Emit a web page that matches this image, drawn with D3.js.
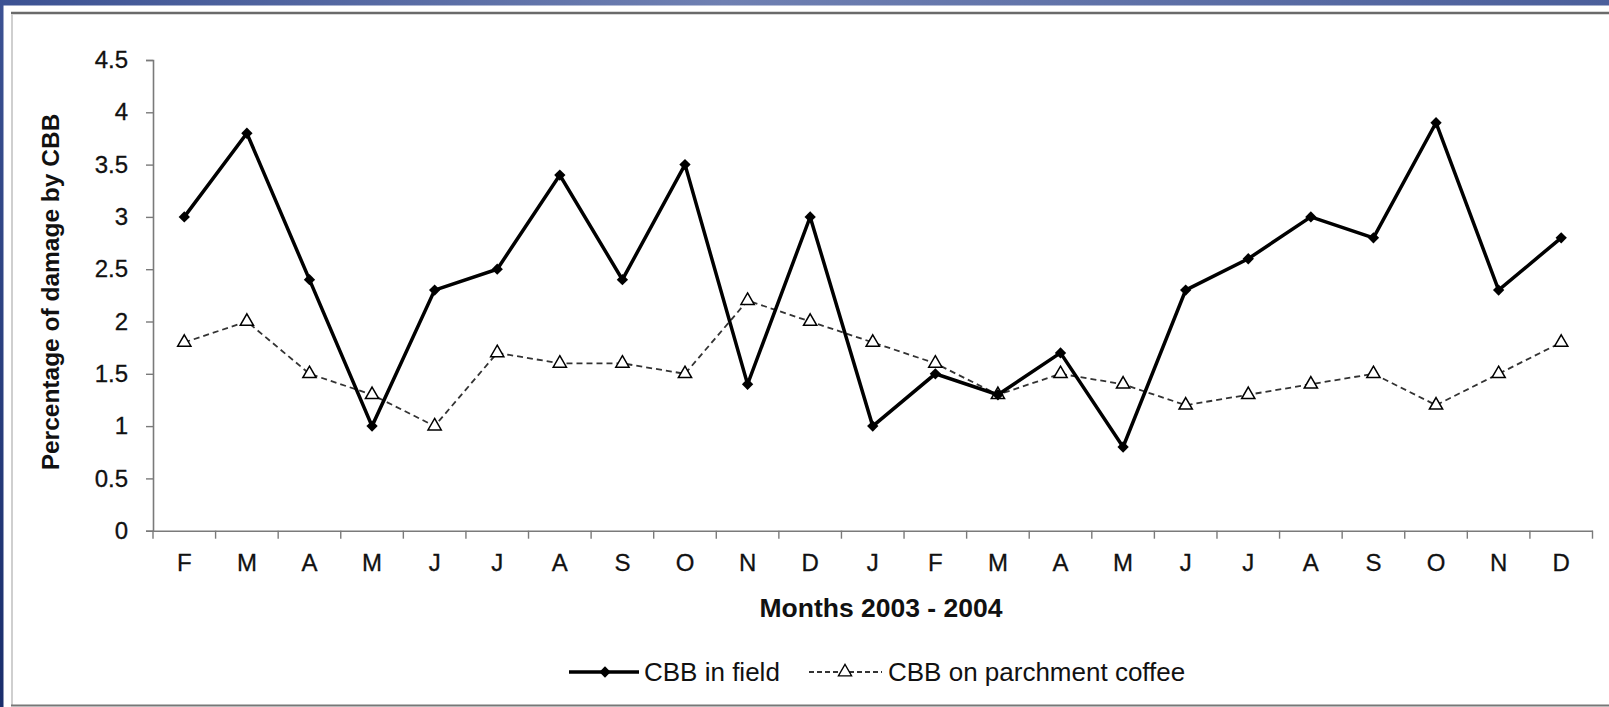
<html lang="en">
<head>
    <meta charset="UTF-8">
    <title>CBB damage</title>
    <script src="https://cdn.jsdelivr.net/npm/d3@7" type="text/javascript"></script>
    <style>
        body { margin: 0; background: #fff; }
        text { font-family: "Liberation Sans", Arial, sans-serif; fill: #111; }
    </style>
</head>
<body>
    <svg id="svg"></svg>

    <script>
        var WIDTH = 1609;
        var HEIGHT = 707;

        // months Feb 2003 - Dec 2004
        var months = ["F","M","A","M","J","J","A","S","O","N","D","J","F","M","A","M","J","J","A","S","O","N","D"];
        var cbbField = [3.0, 3.8, 2.4, 1.0, 2.3, 2.5, 3.4, 2.4, 3.5, 1.4, 3.0, 1.0, 1.5, 1.3, 1.7, 0.8, 2.3, 2.6, 3.0, 2.8, 3.9, 2.3, 2.8];
        var cbbParchment = [1.8, 2.0, 1.5, 1.3, 1.0, 1.7, 1.6, 1.6, 1.5, 2.2, 2.0, 1.8, 1.6, 1.3, 1.5, 1.4, 1.2, 1.3, 1.4, 1.5, 1.2, 1.5, 1.8];
        var yTicks = [0, 0.5, 1, 1.5, 2, 2.5, 3, 3.5, 4, 4.5];
        var seriesNames = ["CBB in field", "CBB on parchment coffee"];

        var buildChart = function(){

            var svg = d3.select("#svg")
                        .attr("width", WIDTH)
                        .attr("height", HEIGHT);

            // slide frame
            var defs = svg.append("defs");
            var gTop = defs.append("linearGradient").attr("id","topbar");
            gTop.append("stop").attr("offset","0%").attr("stop-color","#3c5293");
            gTop.append("stop").attr("offset","45%").attr("stop-color","#6f80b2");
            gTop.append("stop").attr("offset","100%").attr("stop-color","#4b5f9b");
            var gLeft = defs.append("linearGradient").attr("id","leftbar")
                            .attr("x1","0").attr("y1","0").attr("x2","0").attr("y2","1");
            gLeft.append("stop").attr("offset","0%").attr("stop-color","#3c5293");
            gLeft.append("stop").attr("offset","100%").attr("stop-color","#1a2e6c");

            svg.append("rect").attr("x",0).attr("y",0).attr("width",WIDTH).attr("height",HEIGHT).attr("fill","#fff");
            svg.append("rect").attr("x",0).attr("y",0).attr("width",WIDTH).attr("height",5.5).attr("fill","url(#topbar)");
            svg.append("rect").attr("x",0).attr("y",0).attr("width",3.5).attr("height",HEIGHT).attr("fill","url(#leftbar)");
            svg.append("line").attr("x1",11).attr("x2",WIDTH).attr("y1",13).attr("y2",13)
               .attr("stroke","#6a6a6a").attr("stroke-width",2.5);
            svg.append("line").attr("x1",12).attr("x2",12).attr("y1",14).attr("y2",706)
               .attr("stroke","#cfcfcf").attr("stroke-width",2);
            svg.append("line").attr("x1",11).attr("x2",WIDTH).attr("y1",705.5).attr("y2",705.5)
               .attr("stroke","#777").attr("stroke-width",2);

            var xScale = d3.scaleBand()
                           .domain(d3.range(months.length))
                           .range([153, 1592.5]);

            var yScale = d3.scaleLinear()
                           .domain([0, 4.5])
                           .range([530.7, 60]);

            var yAxis = d3.axisLeft(yScale)
                          .tickValues(yTicks)
                          .tickSize(7)
                          .tickPadding(18)
                          .tickFormat(function(d){ return String(d); });

            var xAxis = d3.axisBottom(xScale)
                          .tickSize(0)
                          .tickPadding(23)
                          .tickFormat(function(i){ return months[i]; });

            var gy = svg.append("g")
               .attr("transform","translate(153,0)")
               .call(yAxis);

            var gx = svg.append("g")
               .attr("transform","translate(0,530.7)")
               .call(xAxis);

            // category boundary ticks
            var bounds = d3.range(months.length).map(function(i){ return xScale(i); })
                           .concat([xScale.range()[1]]);
            gx.selectAll(".bound")
              .data(bounds)
              .enter()
              .append("line")
              .attr("class","bound")
              .attr("x1", function(d){ return d; })
              .attr("x2", function(d){ return d; })
              .attr("y1", 0)
              .attr("y2", 8);

            [gx, gy].forEach(function(g){
                g.selectAll("path.domain").attr("stroke","#7a7a7a").attr("stroke-width",1.6);
                g.selectAll("line").attr("stroke","#7a7a7a").attr("stroke-width",1.4);
                g.selectAll("text").attr("font-size",24).attr("font-family",null)
                 .attr("fill","#111").attr("stroke","#111").attr("stroke-width",0.3);
            });

            var cx = function(d, i){ return xScale(i) + xScale.bandwidth()/2; };

            var line = d3.line()
                         .x(function(d, i){ return cx(d, i); })
                         .y(function(d){ return yScale(d); });

            svg.append("path")
               .datum(cbbParchment)
               .attr("d", line)
               .attr("fill","none")
               .attr("stroke","#333")
               .attr("stroke-width",1.8)
               .attr("stroke-dasharray","6,4");

            svg.append("path")
               .datum(cbbField)
               .attr("d", line)
               .attr("fill","none")
               .attr("stroke","#000")
               .attr("stroke-width",3.5)
               .attr("stroke-linejoin","miter");

            var diamond = d3.symbol().type(d3.symbolSquare).size(64);
            var triangle = d3.symbol().type(d3.symbolTriangle).size(76);

            svg.selectAll(".tri")
               .data(cbbParchment)
               .enter()
               .append("path")
               .attr("class","tri")
               .attr("d", triangle)
               .attr("transform", function(d, i){ return "translate(" + cx(d, i) + "," + yScale(d) + ")"; })
               .attr("fill","#fff")
               .attr("stroke","#000")
               .attr("stroke-width",1.5);

            svg.selectAll(".dia")
               .data(cbbField)
               .enter()
               .append("path")
               .attr("class","dia")
               .attr("d", diamond)
               .attr("transform", function(d, i){ return "translate(" + cx(d, i) + "," + yScale(d) + ") rotate(45)"; })
               .attr("fill","#000");

            // axis titles
            svg.append("text")
               .attr("transform","translate(59,292) rotate(-90)")
               .attr("text-anchor","middle")
               .attr("font-size",24.5)
               .attr("font-weight","bold")
               .text("Percentage of damage by CBB");

            svg.append("text")
               .attr("x", 881)
               .attr("y", 617)
               .attr("text-anchor","middle")
               .attr("font-size",26.5)
               .attr("font-weight","bold")
               .text("Months 2003 - 2004");

            // legend
            var ly = 672;
            var leg = svg.append("g");
            leg.append("line").attr("x1",569).attr("x2",639).attr("y1",ly).attr("y2",ly)
               .attr("stroke","#000").attr("stroke-width",3.5);
            leg.append("path").attr("d", diamond)
               .attr("transform","translate(605," + ly + ") rotate(45)").attr("fill","#000");
            leg.append("text")
               .attr("x",644).attr("y",ly + 9)
               .attr("font-size",26)
               .text(seriesNames[0]);

            leg.append("line").attr("x1",809).attr("x2",882).attr("y1",ly).attr("y2",ly)
               .attr("stroke","#333").attr("stroke-width",1.8).attr("stroke-dasharray","5,3");
            leg.append("path").attr("d", triangle)
               .attr("transform","translate(845," + ly + ")")
               .attr("fill","#fff").attr("stroke","#000").attr("stroke-width",1.3);
            leg.append("text")
               .attr("x",888).attr("y",ly + 9)
               .attr("font-size",26)
               .text(seriesNames[1]);
        }

        buildChart();
    </script>
</body>
</html>
